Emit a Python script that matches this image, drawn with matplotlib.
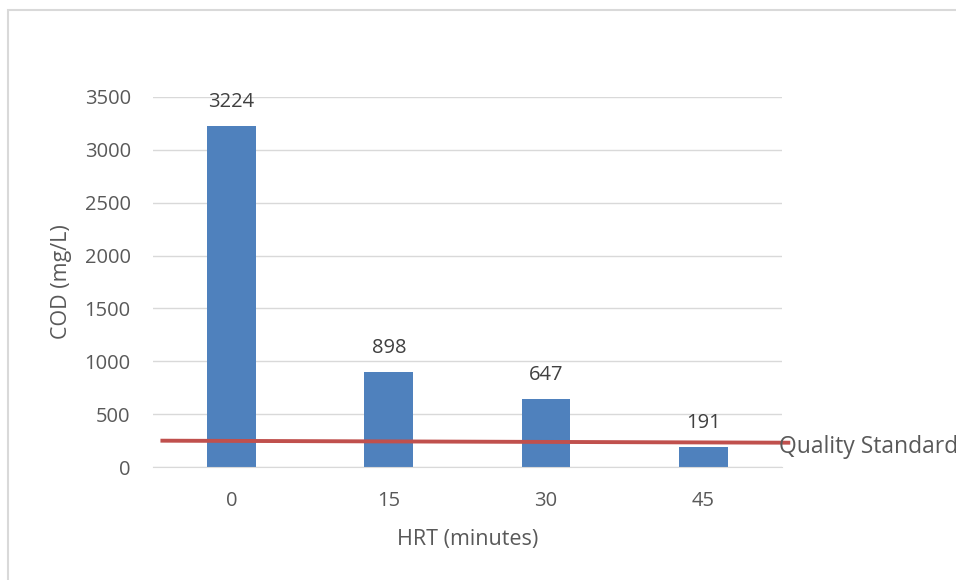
import numpy as np
import matplotlib.pyplot as plt
from matplotlib.patches import Rectangle

# data
hrt_labels = ["0", "15", "30", "45"]
cod_values = [3224, 898, 647, 191]
# quality standard line (drawn slightly sloped in the original)
qs_x = [-0.44, 3.54]
qs_values = [249, 230]

plt.rcParams['font.family'] = ['Open Sans', 'DejaVu Sans']
text_color = '#595959'

fig = plt.figure(figsize=(9.56, 5.8), dpi=100)
ax = fig.add_axes([0.160, 0.1948, 0.658, 0.638])

# chart border (runs off the right and bottom edges)
fig.patches.append(Rectangle((8 / 956, -0.01), 1.0, 1 - 10 / 580 + 0.01,
                             transform=fig.transFigure, fill=False,
                             edgecolor='#d9d9d9', linewidth=1.5))

x = np.arange(len(hrt_labels))
bars = ax.bar(x, cod_values, width=0.31, color='#4f81bd', zorder=2)

for rect, v in zip(bars, cod_values):
    ax.annotate(f'{v}', xy=(rect.get_x() + rect.get_width() / 2, rect.get_height()),
                xytext=(0, 10), textcoords="offset points",
                ha='center', va='bottom', fontsize=14.5, color='#404040')

ax.plot(qs_x, qs_values, color='#c0504d', linewidth=2.8, zorder=3, clip_on=False)
ax.annotate('Quality Standard', xy=(qs_x[-1], qs_values[-1]), xytext=(-7, -3),
            textcoords="offset points", ha='left', va='center',
            fontsize=16.5, color=text_color, annotation_clip=False)

ax.set_xlim(-0.5, 3.5)
ax.set_ylim(0, 3500)
ax.set_yticks(np.arange(0, 3501, 500))
ax.set_xticks(x)
ax.set_xticklabels(hrt_labels)
ax.grid(axis='y', color='#d9d9d9', linewidth=1.0, zorder=0)
ax.set_axisbelow(True)
for s in ['top', 'right', 'left']:
    ax.spines[s].set_visible(False)
ax.spines['bottom'].set_color('#d9d9d9')
ax.tick_params(axis='both', length=0, labelsize=14.5, labelcolor=text_color)
ax.tick_params(axis='y', pad=16)
ax.tick_params(axis='x', pad=17)

ax.set_xlabel('HRT (minutes)', fontsize=15.5, color=text_color)
ax.set_ylabel('COD (mg/L)', fontsize=15.5, color=text_color)
ax.xaxis.set_label_coords(0.5, -0.168)
ax.yaxis.set_label_coords(-0.128, 0.5)

plt.savefig('out.png', dpi=100)
